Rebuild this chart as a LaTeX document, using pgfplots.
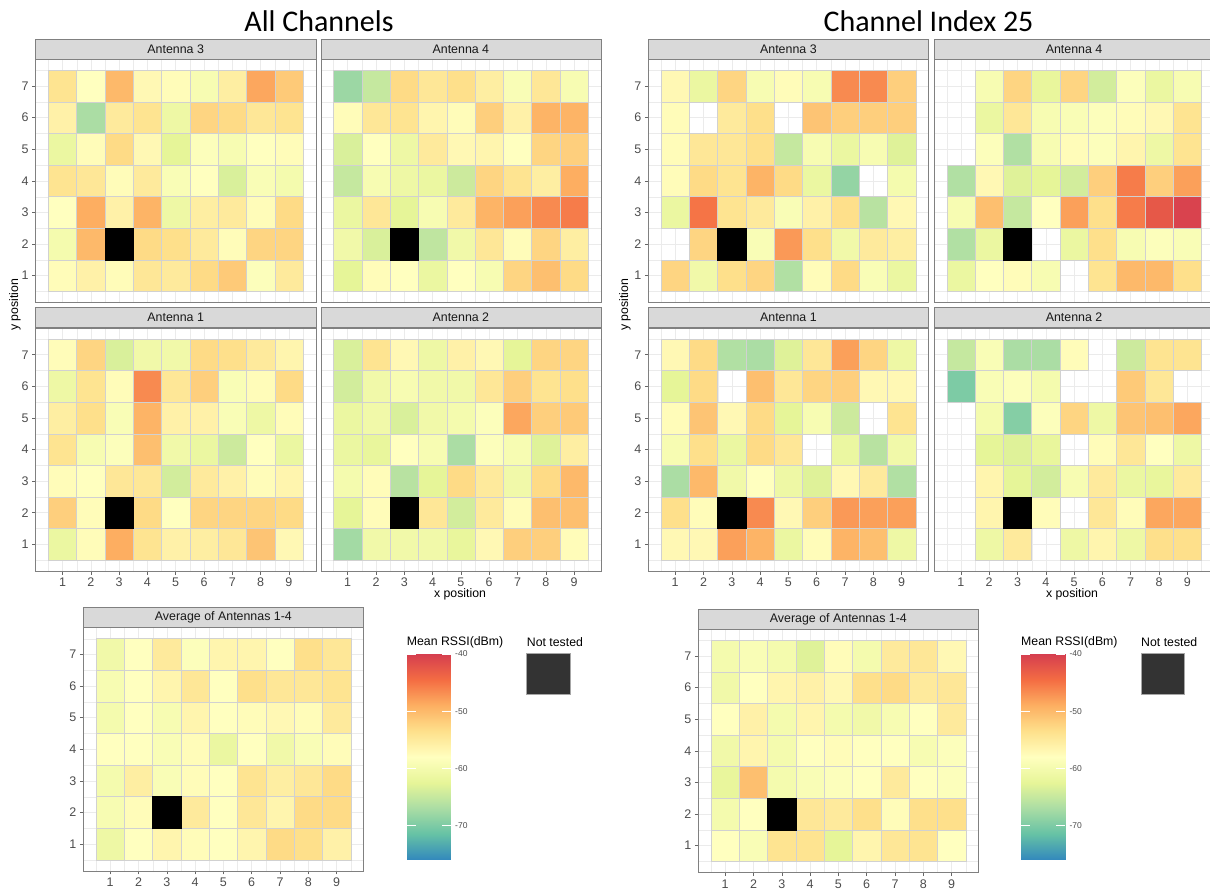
\documentclass[border=0pt]{standalone}
\usepackage{fontspec}
\setmainfont{Liberation Sans}
\newfontfamily\titlefont{Carlito}
\usepackage{pgfplots}
\usepackage{pgfplotstable}
\pgfplotsset{compat=1.18}

\pgfplotsset{colormap={spectral}{rgb255=(50,136,189) rgb255=(102,194,165) rgb255=(171,221,164) rgb255=(230,245,152) rgb255=(255,255,191) rgb255=(254,224,139) rgb255=(253,174,97) rgb255=(244,109,67) rgb255=(213,62,79)}}

% ---------- All channels ----------
\pgfplotstableread{
y c1 c2 c3 c4 c5 c6 c7 c8 c9
7 -54 -58 -50 -57 -57.5 -59.5 -55.5 -48.5 -51.5
6 -56 -67 -55 -54 -61 -52.5 -53 -54.5 -54
5 -61.5 -57.5 -53 -57 -62.5 -58.5 -59.5 -58 -57.5
4 -54 -54.5 -57.5 -55 -59 -58 -63.5 -59 -60
3 -58 -49 -56 -49.5 -61 -55.5 -55 -57.5 -53
2 -60 -50 nan -53 -53.5 -55 -57.5 -52.5 -52.5
1 -57.5 -56 -57.5 -54.5 -55 -53 -51.5 -58.5 -55
}\LAthree
\pgfplotstableread{
y c1 c2 c3 c4 c5 c6 c7 c8 c9
7 -68 -65 -53 -54.5 -53.5 -55.5 -59 -54.5 -59.5
6 -57.5 -54.5 -54 -56.5 -57.5 -52 -56 -49.5 -49.5
5 -63.5 -58 -61 -55 -57 -56.5 -58 -52.5 -52
4 -65 -59.5 -61 -61.5 -64.5 -52.5 -54 -55.5 -49
3 -61.5 -54.5 -62.5 -59.5 -55 -49.5 -48 -46.5 -45.5
2 -60.5 -63.5 nan -65.5 -60.5 -54.5 -57.5 -52.5 -55.5
1 -62.5 -57.5 -58 -61.5 -58 -59.5 -52.5 -50.5 -53
}\LAfour
\pgfplotstableread{
y c1 c2 c3 c4 c5 c6 c7 c8 c9
7 -57.5 -52.5 -63.5 -60.5 -60.5 -53 -53.5 -55 -56.5
6 -61 -54 -57.5 -46.5 -54.5 -52 -59 -57.5 -53
5 -55.5 -53.5 -59 -49.5 -56 -56 -59 -61 -57.5
4 -54 -59.5 -58.5 -50.5 -60.5 -61.5 -64.5 -58 -61.5
3 -57.5 -58 -54.5 -54.5 -64 -55 -56 -57.5 -56.5
2 -52 -57.5 nan -53 -58 -52.5 -52.5 -52.5 -53
1 -61.5 -57.5 -49 -54 -56 -55.5 -54.5 -51 -57
}\LAone
\pgfplotstableread{
y c1 c2 c3 c4 c5 c6 c7 c8 c9
7 -63.5 -54 -57 -61 -56 -57 -62.5 -52.5 -52.5
6 -64 -60.5 -59.5 -60.5 -60.5 -54.5 -52 -54 -53.5
5 -61.5 -60.5 -63.5 -60.5 -60 -58.5 -48.5 -52 -51.5
4 -61.5 -62 -58 -59.5 -67 -58.5 -59.5 -63 -55.5
3 -60 -57.5 -66 -62.5 -53 -55 -60.5 -53 -50
2 -62.5 -57.5 nan -54.5 -64 -55 -57.5 -50.5 -50.5
1 -67.5 -60.5 -60.5 -60.5 -62 -57 -52 -52 -57.5
}\LAtwo
\pgfplotstableread{
y c1 c2 c3 c4 c5 c6 c7 c8 c9
7 -60.5 -58 -55 -58.5 -56.5 -56.5 -58 -53.5 -54.5
6 -59.5 -58 -56.5 -54.5 -58 -53.5 -54.5 -54.5 -54
5 -60 -58 -59.5 -56.5 -58 -57.5 -57 -57.5 -55
4 -58 -58 -59 -57.5 -61.5 -58 -60.5 -59 -57.5
3 -60 -55.5 -59 -57.5 -58 -54 -55.5 -54.5 -53
2 -59.5 -57.5 nan -55 -58 -54.5 -56.5 -53 -53
1 -61 -58 -56.5 -57.5 -58 -56.5 -53 -53.5 -56
}\LAavg

% ---------- Channel index 25 ----------
\pgfplotstableread{
y c1 c2 c3 c4 c5 c6 c7 c8 c9
7 -57 -61.5 -52.5 -59.5 -57.5 -59.5 -46.5 -46.5 -52
6 -57.5 nan -55 -53.5 nan -51 -52 -52 -52
5 -57.5 -54.5 -54.5 -53.5 -65 -59.5 -61.5 -59.5 -63
4 -57.5 -53 -54 -49.5 -53 -61.5 -68.5 nan -60
3 -61.5 -45 -54 -55 -59 -56 -53.5 -66 -57
2 nan -52.5 nan -59 -47.5 -53.5 -60.5 -55 -55.5
1 -52.5 -60.5 -53.5 -52.5 -66.5 -57.5 -53 -59 -61.5
}\RAthree
\pgfplotstableread{
y c1 c2 c3 c4 c5 c6 c7 c8 c9
7 nan -59.5 -52.5 -62 -52.5 -64 -58.5 -61.5 -59.5
6 nan -61.5 -54.5 -59.5 -59 -58.5 -57.5 -57 -54
5 nan -58.5 -66.5 -59.5 -57.5 -58.5 -56.5 -61 -54
4 -66.5 -57 -63 -62.5 -64 -52 -45.5 -52 -48
3 -59.5 -50.5 -65 -58 -48 -53.5 -45.5 -42.5 -40.5
2 -66.5 -61.5 nan nan -61.5 -53.5 -59.5 -58.5 -59
1 -61.5 -58 -57.5 -59.5 nan -54 -50 -50 -53.5
}\RAfour
\pgfplotstableread{
y c1 c2 c3 c4 c5 c6 c7 c8 c9
7 -57 -53 -66.5 -67 -63 -54.5 -48 -52.5 -61
6 -62.5 -53 nan -50.5 -54.5 -52.5 -52 -57 -57
5 -57.5 -51 -57 -53 -62.5 -59.5 -64.5 nan -54
4 -59.5 -53.5 -61.5 -53 -54.5 nan -61.5 -66 -60.5
3 -67 -50 -60.5 -58 -61 -63 -57 -55 -66.5
2 -53.5 -57.5 nan -46.5 -57 -52 -47.5 -48 -48
1 -57 -57 -48 -49.5 -61.5 -57.5 -49.5 -50.5 -61
}\RAone
\pgfplotstableread{
y c1 c2 c3 c4 c5 c6 c7 c8 c9
7 -65 -59 -67 -67 -57.5 nan -64.5 -54 -54
6 -70 -59 -58.5 -60 nan nan -51.5 -54.5 nan
5 nan -60 -69.5 -58.5 -52.5 -61 -51 -50.5 -48.5
4 nan -62.5 -63 -62 nan -57.5 -54.5 -58 -61
3 nan -56.5 -62.5 -64 -59.5 -55 -61.5 -62 -55
2 nan -56.5 nan -57.5 nan -54.5 -57.5 -48.5 -48.5
1 nan -61 -55 nan -61 -56.5 -61 -53.5 -53.5
}\RAtwo
\pgfplotstableread{
y c1 c2 c3 c4 c5 c6 c7 c8 c9
7 -60 -59 -60 -63 -57.5 -60 -55 -54.5 -57
6 -60.5 -58 -56.5 -56 -57 -53.5 -53 -55 -54.5
5 -58 -56 -60 -56.5 -60 -60.5 -59.5 -58 -55
4 -60.5 -56.5 -60 -58 -57.5 -58 -58 -59.5 -58.5
3 -62 -50.5 -60 -59 -58.5 -58 -55 -58 -58.5
2 -60 -58 nan -54.5 -55 -53.5 -57.5 -53.5 -53.5
1 -58 -59 -54 -54 -62.5 -56.5 -54.5 -54 -58
}\RAavg

% colour scale (legend)
\pgfplotstableread{
x y
0 -76
1 -76
0 -71.5
1 -71.5
0 -67
1 -67
0 -62.5
1 -62.5
0 -58
1 -58
0 -53.5
1 -53.5
0 -49
1 -49
0 -44.5
1 -44.5
0 -40
1 -40
}\cbar

\newcommand{\heat}[1]{%
  \pgfplotsinvokeforeach{1,...,9}{%
    \addplot[scatter, only marks, mark=square*, mark size=14.15pt,
      mark options={yscale=1.1166, line width=0.4pt}, point meta=explicit,
      scatter/use mapped color={draw=black!18, fill=mapped color}]
      table[x expr=##1, y expr={(\thisrow{c##1}/\thisrow{c##1})*\thisrow{y}}, meta=c##1] {#1};
  }%
  \addplot[only marks, mark=square*, mark size=14.15pt,
    mark options={yscale=1.1166, fill=black, draw=black}] coordinates {(3,2)};
}

\pgfplotsset{
  heat/.style={
    x=28.3pt, y=31.6pt,
    xmin=0.05, xmax=9.95, ymin=0.15, ymax=7.85,
    anchor=north west,
    xtick={1,...,9}, ytick={1,...,7},
    minor xtick={0.5,1.5,...,9.5}, minor ytick={0.5,1.5,...,7.5},
    grid=both,
    major grid style={black!8, line width=0.5pt},
    minor grid style={black!8, line width=0.25pt},
    axis line style={black!50, line width=0.5pt},
    tick align=outside, major tick length=3.5pt, minor tick length=0pt,
    tick style={black!60, line width=0.5pt},
    xminorticks=false, yminorticks=false,
    tick pos=left,
    tick label style={font=\fontsize{12.5}{13}\selectfont, text=black!70},
    /pgf/number format/assume math mode=true,
    colormap name=spectral, point meta min=-76, point meta max=-40,
    every axis title/.style={at={(0.5,1)}, anchor=south, fill=black!15,
      draw=black!50, line width=0.5pt, minimum width=280.2pt,
      minimum height=20pt, inner sep=0pt,
      font=\fontsize{12.4}{14}\selectfont, text=black!90},
  },
  noxt/.style={xticklabels={}, xmajorticks=false},
  noyt/.style={yticklabels={}, ymajorticks=false},
  cbax/.style={anchor=north west, scale only axis, width=44pt, height=206pt,
    xmin=0, xmax=1, ymin=-76, ymax=-40, axis on top,
    xtick=\empty, ytick={-70,-60,-50,-40},
    axis line style={draw=none}, tick align=inside,
    major tick length=8.8pt, tick style={white, line width=0.7pt},
    ytick pos=both, yticklabel pos=right,
    /pgf/number format/assume math mode=true,
    yticklabel style={font=\fontsize{8.5}{9}\selectfont, text=black!70, xshift=1pt},
    colormap name=spectral, point meta min=-76, point meta max=-40},
}

\begin{document}
\begin{tikzpicture}
\useasboundingbox (0,0) rectangle (1210pt,890pt);

% titles
\node[font=\titlefont\fontsize{30}{36}\selectfont] at (319pt,869pt) {All Channels};
\node[font=\titlefont\fontsize{30}{36}\selectfont] at (928.5pt,869pt) {Channel Index 25};

% ---------------- left block ----------------
\begin{axis}[heat, noxt, at={(35.6pt,830.8pt)}, title={Antenna 3}]
\heat{\LAthree}
\end{axis}
\begin{axis}[heat, noxt, noyt, at={(320.8pt,830.8pt)}, title={Antenna 4}]
\heat{\LAfour}
\end{axis}
\begin{axis}[heat, at={(35.6pt,562.1pt)}, title={Antenna 1}]
\heat{\LAone}
\end{axis}
\begin{axis}[heat, noyt, at={(320.8pt,562.1pt)}, title={Antenna 2}]
\heat{\LAtwo}
\end{axis}
\begin{axis}[heat, at={(83.3pt,262.4pt)}, title={Average of Antennas 1-4}]
\heat{\LAavg}
\end{axis}
\begin{axis}[cbax, at={(406.7pt,236pt)}]
\addplot[surf, shader=interp, mesh/cols=2, point meta=y] table {\cbar};
\end{axis}

\node[font=\fontsize{12.3}{14}\selectfont] at (460pt,296pt) {x position};
\node[font=\fontsize{12.3}{14}\selectfont, rotate=90] at (15pt,585pt) {y position};
\node[font=\fontsize{12.3}{14}\selectfont, anchor=west, inner sep=0pt] at (406.7pt,248pt) {Mean RSSI(dBm)};
\node[font=\fontsize{12.3}{14}\selectfont, anchor=west, inner sep=0pt] at (526.7pt,248pt) {Not tested};
\filldraw[fill=black!80, draw=black!35, line width=0.5pt] (526.7pt,236.7pt) rectangle (570.3pt,195.7pt);

% ---------------- right block ----------------
\begin{axis}[heat, noxt, at={(648.3pt,830.8pt)}, title={Antenna 3}]
\heat{\RAthree}
\end{axis}
\begin{axis}[heat, noxt, noyt, at={(934pt,830.8pt)}, title={Antenna 4}]
\heat{\RAfour}
\end{axis}
\begin{axis}[heat, at={(648.3pt,562.1pt)}, title={Antenna 1}]
\heat{\RAone}
\end{axis}
\begin{axis}[heat, noyt, at={(934pt,562.1pt)}, title={Antenna 2}]
\heat{\RAtwo}
\end{axis}
\begin{axis}[heat, at={(698.3pt,260.8pt)}, title={Average of Antennas 1-4}]
\heat{\RAavg}
\end{axis}
\begin{axis}[cbax, at={(1021pt,236pt)}]
\addplot[surf, shader=interp, mesh/cols=2, point meta=y] table {\cbar};
\end{axis}

\node[font=\fontsize{12.3}{14}\selectfont] at (1072pt,296pt) {x position};
\node[font=\fontsize{12.3}{14}\selectfont, rotate=90] at (625pt,585pt) {y position};
\node[font=\fontsize{12.3}{14}\selectfont, anchor=west, inner sep=0pt] at (1021pt,248pt) {Mean RSSI(dBm)};
\node[font=\fontsize{12.3}{14}\selectfont, anchor=west, inner sep=0pt] at (1141pt,248pt) {Not tested};
\filldraw[fill=black!80, draw=black!35, line width=0.5pt] (1141pt,236.7pt) rectangle (1184.3pt,195.7pt);
\end{tikzpicture}
\end{document}
